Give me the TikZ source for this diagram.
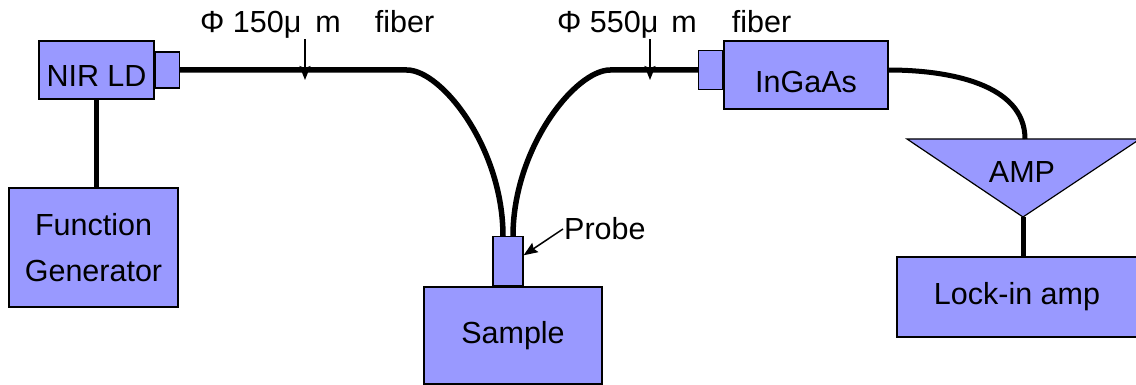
\documentclass[tikz,border=0pt]{standalone}
\usepackage{fontspec}
\setmainfont{Liberation Sans}
\definecolor{periwinkle}{RGB}{153,153,255}
\usetikzlibrary{positioning}
\usetikzlibrary{arrows.meta}

\begin{document}
\begin{tikzpicture}[x=1pt, y=-1pt,
    font=\fontsize{30.5}{46}\selectfont,
    unit/.style={draw, line width=1.2pt, fill=periwinkle, inner sep=0pt},
    fiber/.style={line width=5.5pt},
    cable/.style={line width=5pt},
    pointer/.style={line width=1.5pt, -{Stealth[length=14pt, width=11pt, inset=2pt]}}]
  \useasboundingbox (0,0) rectangle (1136,385);

  % laser and its driver
  \node[unit, minimum width=115pt, minimum height=58pt, text height=33pt] (ld) at (96.5,70) {NIR LD};
  \node[unit, minimum width=24pt, minimum height=36pt, right=0pt of ld] (ldport) {};
  \node[unit, minimum width=169pt, minimum height=119pt, align=center] (fg) at (93.5,247.5) {Function\\Generator};

  % sample with the probe on top
  \node[unit, minimum width=178pt, minimum height=97pt] (sample) at (513,335.5) {Sample};
  \node[unit, minimum width=30pt, minimum height=49pt, above=0pt of sample, xshift=-5pt] (probe) {};

  % detector, amplifier, lock-in
  \node[unit, minimum width=164pt, minimum height=68pt, text height=35pt] (ingaas) at (806,75) {InGaAs};
  \node[unit, minimum width=24pt, minimum height=39pt, left=0pt of ingaas, yshift=5pt] (inport) {};
  \coordinate (ampin) at (1025,139);
  \coordinate (ampout) at (1023,217);
  \draw[unit] (907,139) -- (1140,139) -- (ampout) -- cycle;
  \node (amp) at (1022,172) {AMP};
  \node[unit, minimum width=240pt, minimum height=80pt] (lockin) at (1017,297) {Lock-in amp};

  % fibers
  \draw[fiber] (ldport.east) -- ++(227,0) .. controls +(35,0) and +(0,-88) .. ([xshift=-5pt]probe.north);
  \draw[fiber] (inport.west) -- ++(-88,0) .. controls +(-35,0) and +(0,-88) .. ([xshift=5pt]probe.north);

  % electrical lines
  \draw[cable] (ld.south) -- (fg.north -| ld.south);
  \draw[cable] ([yshift=5pt]ingaas.east) .. controls +(60,0) and +(0,-55) .. (ampin);
  \draw[cable] (ampout) -- (lockin.north -| ampout);

  % labels
  \node[anchor=base west, inner sep=0pt] (tag150) at (200,33) {Φ 150μ\hspace{14pt}m\hspace{34pt}fiber};
  \node[anchor=base west, inner sep=0pt] (tag550) at (557,33) {Φ 550μ\hspace{13pt}m\hspace{35pt}fiber};
  \coordinate (mark150) at (305,80);
  \coordinate (mark550) at (650,80);
  \draw[pointer] (tag150.south -| mark150) -- (mark150);
  \draw[pointer] (tag550.south -| mark550) -- (mark550);
  \node[anchor=west, inner sep=1pt] (probetag) at (563,229) {Probe};
  \draw[pointer] (probetag.west) -- ([yshift=6pt]probe.east);
\end{tikzpicture}
\end{document}
